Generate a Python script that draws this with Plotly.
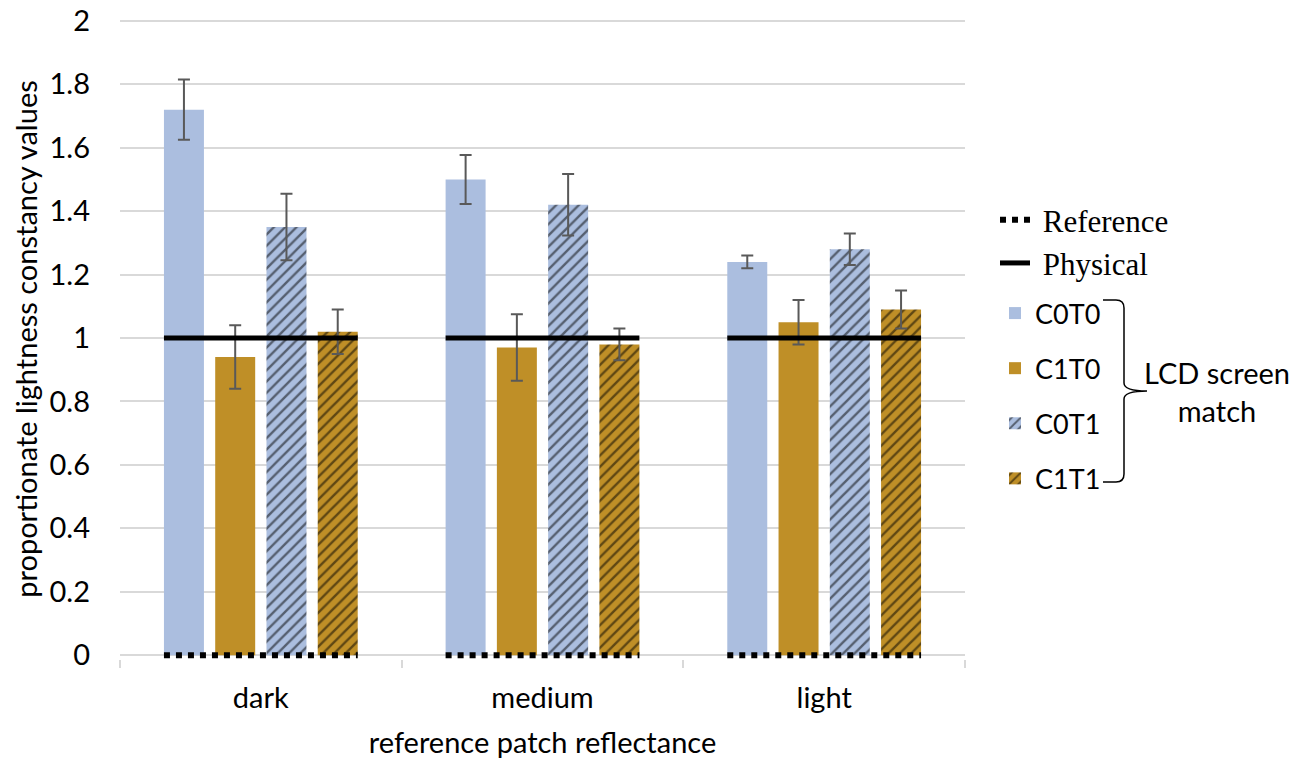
import plotly.graph_objects as go

# ---------------- data ----------------
categories = ["dark", "medium", "light"]
series_names = ["C0T0", "C1T0", "C0T1", "C1T1"]
c0t0 = [1.72, 1.50, 1.24]
c1t0 = [0.94, 0.97, 1.05]
c0t1 = [1.35, 1.42, 1.28]
c1t1 = [1.02, 0.98, 1.09]
c0t0_err = [0.095, 0.077, 0.02]
c1t0_err = [0.10, 0.105, 0.07]
c0t1_err = [0.105, 0.097, 0.05]
c1t1_err = [0.07, 0.05, 0.06]
reference_vals = [0, 0, 0]
physical_vals = [1, 1, 1]
y_ticks = [0, 0.2, 0.4, 0.6, 0.8, 1, 1.2, 1.4, 1.6, 1.8, 2]

# ---------------- style ----------------
W, H = 1306, 760
PLOT_L, PLOT_R = 120, 965          # pixel extent of the plot area
Y0_PX, Y2_PX = 655, 21             # pixel rows of y=0 and y=2
Y_LO, Y_HI = -0.012, 2.006         # axis range (slightly padded)
scale = (Y0_PX - Y2_PX) / 2.0
TOP_PX = Y2_PX - (Y_HI - 2) * scale
BOT_PX = Y0_PX - Y_LO * scale
L, R, T, B = PLOT_L, W - PLOT_R, TOP_PX, H - BOT_PX

BLUE = "#ABBEDF"
GOLD = "#BF8F27"
ERR = "#595959"
GRID = "#D9D9D9"
SANS = "Lato, 'Open Sans', sans-serif"
SERIF = "'Liberation Serif', 'Times New Roman', serif"
FS = 29
BARGAP = 0.272
GROUPGAP = 0.22

def px(xp):
    return (xp - L) / (W - L - R)

def py(yp):
    return (BOT_PX - yp) / (BOT_PX - TOP_PX)

fig = go.Figure()

bar_specs = [
    (c0t0, c0t0_err, BLUE, None),
    (c1t0, c1t0_err, GOLD, None),
    (c0t1, c0t1_err, BLUE, "/"),
    (c1t1, c1t1_err, GOLD, "/"),
]
for name, (vals, errs, col, pat) in zip(series_names, bar_specs):
    marker = dict(color=col, line=dict(width=0))
    if pat:
        marker["pattern"] = dict(shape=pat, fgcolor="black", bgcolor=col,
                                 size=8, solidity=0.3, fillmode="overlay")
    fig.add_trace(go.Bar(
        x=categories, y=vals, name=name, marker=marker,
        error_y=dict(type="data", array=errs, visible=True,
                     color=ERR, thickness=2, width=6),
        legend="legend2", legendgroup=name,
    ))

# Reference / Physical lines spanning each bar group
half = (1 - BARGAP) * (1 - GROUPGAP / 4) / 2

def seg(vals):
    xs, ys = [], []
    for i, v in enumerate(vals):
        xs += [i - half, i + half, None]
        ys += [v, v, None]
    return xs, ys

rx, ry = seg(reference_vals)
fig.add_trace(go.Scatter(x=rx, y=ry, xaxis="x2", mode="lines",
                         name=" Reference",
                         line=dict(color="black", width=6, dash="6px,6px"),
                         legend="legend", legendgroup="ref"))
phx, phy = seg(physical_vals)
fig.add_trace(go.Scatter(x=phx, y=phy, xaxis="x2", mode="lines",
                         name=" Physical",
                         line=dict(color="black", width=5),
                         legend="legend", legendgroup="phys"))

fig.update_layout(
    width=W, height=H,
    margin=dict(l=L, r=R, t=T, b=B, autoexpand=False),
    paper_bgcolor="white", plot_bgcolor="white",
    barmode="group", bargap=BARGAP, bargroupgap=GROUPGAP,
    font=dict(family=SANS, size=FS, color="black"),
    xaxis=dict(
        type="category", showgrid=False, showline=False, automargin=False,
        ticks="outside", tickson="boundaries", ticklen=8, tickcolor=GRID, tickwidth=1.5,
        tickfont=dict(size=FS), ticklabelstandoff=19,
        title=dict(text="reference patch reflectance", font=dict(size=FS), standoff=19),
    ),
    xaxis2=dict(overlaying="x", range=[-0.5, 2.5], visible=False, fixedrange=True),
    yaxis=dict(
        range=[Y_LO, Y_HI], tickvals=y_ticks, ticktext=[f"{v:g}" for v in y_ticks],
        showgrid=True, gridcolor=GRID, gridwidth=1.5,
        zeroline=True, zerolinecolor=GRID, zerolinewidth=1.5,
        showline=False, ticks="", tickfont=dict(size=FS), ticklabelstandoff=29,
        automargin=False,
        title=dict(text="proportionate lightness constancy values",
                   font=dict(size=FS), standoff=3),
    ),
    legend=dict(
        x=px(995), y=py(193), xanchor="left", yanchor="top",
        font=dict(family=SERIF, size=31, color="black"),
        traceorder="grouped", tracegroupgap=0, itemwidth=30,
        bgcolor="rgba(0,0,0,0)",
    ),
    legend2=dict(
        x=px(995), y=py(289), xanchor="left", yanchor="top",
        font=dict(family=SANS, size=27, color="black"),
        traceorder="grouped", tracegroupgap=17, itemwidth=30,
        bgcolor="rgba(0,0,0,0)",
    ),
    showlegend=True,
)

# brace "}" grouping the bar legend entries
x0, x1, xm = px(1103), px(1124), px(1147)
ytop, ybot, ymid = py(300), py(482), py(391)
r = 8 / (BOT_PX - TOP_PX)
rx_ = 8 / (W - L - R)
path = (
    f"M {x0},{ytop} L {x1 - rx_},{ytop} Q {x1},{ytop} {x1},{ytop - r} "
    f"L {x1},{ymid + r} Q {x1},{ymid} {xm},{ymid} "
    f"Q {x1},{ymid} {x1},{ymid - r} "
    f"L {x1},{ybot + r} Q {x1},{ybot} {x1 - rx_},{ybot} L {x0},{ybot}"
)
fig.add_shape(type="path", path=path, xref="paper", yref="paper",
              line=dict(color="black", width=1.5))
fig.add_annotation(text="LCD screen<br>match", xref="paper", yref="paper",
                   x=px(1217), y=py(391), xanchor="center", yanchor="middle",
                   showarrow=False, font=dict(family=SANS, size=FS, color="black"))

fig.write_html("out.html")
